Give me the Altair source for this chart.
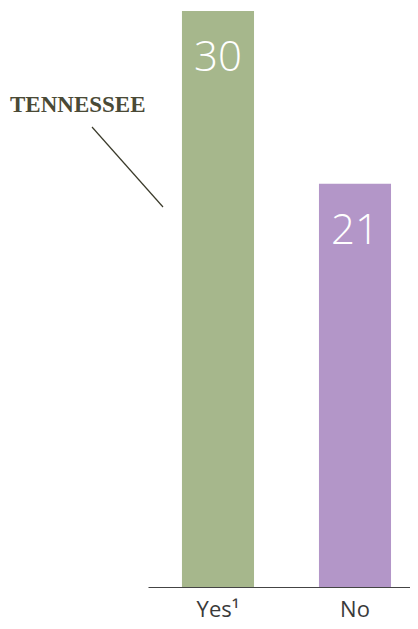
import altair as alt
import pandas as pd

categories = ["Yes\u00b9", "No"]
values = [30, 21]
colors = ["#a6b78c", "#b396c8"]
annotation = "TENNESSEE"

df = pd.DataFrame({"cat": categories, "val": values, "color": colors})

xscale = alt.Scale(domain=categories, paddingInner=0.474, paddingOuter=0.1932, align=0.6415)
x = alt.X("cat:N", scale=xscale, sort=categories,
          axis=alt.Axis(title=None, labelAngle=0, ticks=False, domainColor="#444444",
                        domainWidth=1, labelFont="Open Sans", labelFontSize=22,
                        labelColor="#3a3a3a", labelPadding=12, labelFontWeight="normal"))
y = alt.Y("val:Q", scale=alt.Scale(domain=[0, 30], nice=False), axis=None)

base = alt.Chart(df)
bars = base.mark_bar().encode(x=x, y=y, color=alt.Color("color:N", scale=None))
nums = base.mark_text(color="white", font="Open Sans", fontWeight=300, fontSize=42,
                      baseline="alphabetic", align="center", dy=60).encode(
    x=x, y=y, text=alt.Text("val:Q"))

one = pd.DataFrame({"a": [0]})
label = alt.Chart(one).mark_text(text=annotation, font="Liberation Serif", fontSize=23,
                                 fontWeight="bold", color="#4a4a36", align="left",
                                 baseline="alphabetic").encode(
    x=alt.value(-138), y=alt.value(101))
line = alt.Chart(one).mark_rule(color="#3a3a2a", strokeWidth=1.2).encode(
    x=alt.value(-56), y=alt.value(116), x2=alt.value(15), y2=alt.value(196))

chart = alt.layer(bars, nums, label, line).properties(
    width=262, height=576,
    autosize=alt.AutoSizeParams(type="none"),
    padding={"left": 140, "top": 3, "right": 0, "bottom": 34},
).configure_view(stroke=None)

chart.save("out.html", embed_options={"renderer": "svg", "actions": False})
